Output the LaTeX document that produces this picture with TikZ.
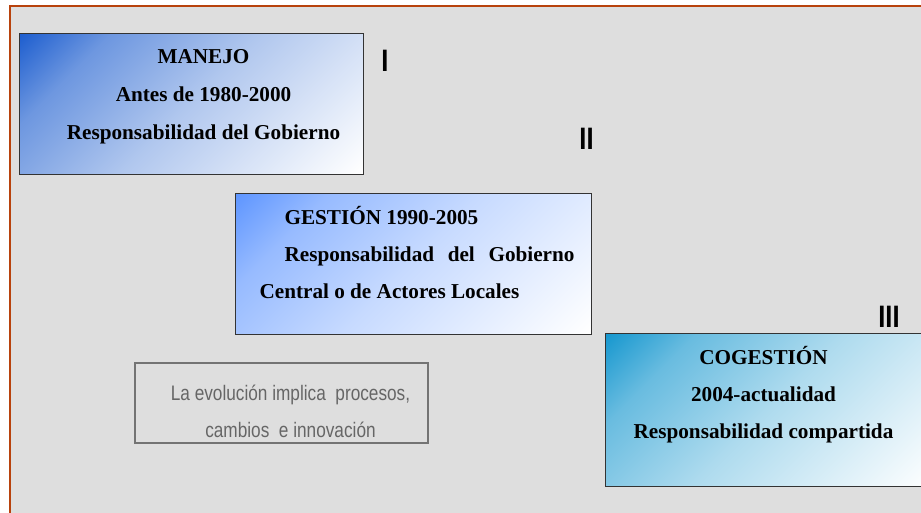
\documentclass[tikz,border=0pt]{standalone}
\usepackage{fontspec}
\setmainfont{Liberation Serif}
\newfontfamily\narrowfont[FakeStretch=0.82]{Liberation Sans}
\definecolor{marco}{HTML}{B8420C}
\definecolor{fondo}{HTML}{DEDEDE}
\definecolor{azulA}{HTML}{1F5FCF}
\definecolor{azulB}{HTML}{5F96FF}
\definecolor{azulC}{HTML}{1898CF}
\colorlet{tope}{azulA}
\colorlet{medio}{azulA!35!white}
\colorlet{alto}{azulA!65!white}
\pgfdeclareverticalshading[tope,medio,alto]{degradado}{100bp}{color(0bp)=(white);color(15bp)=(white);color(50bp)=(medio);color(72bp)=(alto);color(85bp)=(tope);color(100bp)=(tope)}
\begin{document}
\begin{tikzpicture}[x=1pt,y=-1pt,
	caja/.style={draw=black!80,line width=0.9pt,/utils/exec={\colorlet{tope}{#1}\colorlet{medio}{#1!35!white}\colorlet{alto}{#1!65!white}},shading=degradado,shading angle=45,inner sep=0pt},
	texto/.style={anchor=base,font=\bfseries\fontsize{21.2}{38}\selectfont},
	nota/.style={anchor=base,text=black!60,font=\narrowfont\fontsize{21}{38}\selectfont},
	fase/.style={anchor=base,font=\narrowfont\bfseries\fontsize{31}{31}\selectfont}]
	\useasboundingbox (0,0) rectangle (921,512);
	\draw[marco,line width=2pt,fill=fondo] (10,6) rectangle (935,525);
	% Etapa I
	\node[caja=azulA,minimum width=344pt,minimum height=141pt] (manejo) at (191,103.5) {};
	\node[texto] (m1) at (203.5,63) {MANEJO};
	\node[texto] (m2) at (203.5,101) {Antes de 1980-2000};
	\node[texto] (m3) at (203.5,139) {Responsabilidad del Gobierno};
	\node[fase] (f1) at (385,71) {I};
	% Etapa II
	\node[caja=azulB,minimum width=356pt,minimum height=141pt] (gestion) at (413,263.5) {};
	\node[texto,anchor=base west] (g1) at (281,224) {GESTIÓN 1990-2005};
	\node[texto,anchor=base west] (g2) at (281,261) {\makebox[290pt][s]{Responsabilidad del Gobierno}};
	\node[texto,anchor=base west] (g3) at (256,298) {Central o de Actores Locales};
	\node[fase] (f2) at (586.5,149) {II};
	% Etapa III
	\node[caja=azulC,minimum width=330pt,minimum height=153pt] (cogestion) at (770,409.5) {};
	\node[texto] (c1) at (763.5,364) {COGESTIÓN};
	\node[texto] (c2) at (763.5,401) {2004-actualidad};
	\node[texto] (c3) at (763.5,438) {Responsabilidad compartida};
	\node[fase] (f3) at (889,327) {III};
	% Nota
	\node[draw=black!55,line width=1.1pt,minimum width=293pt,minimum height=80pt,inner sep=0pt] (marcoNota) at (281.5,403) {};
	\node[nota] (n1) at (290.5,400) {La evolución implica\ \ procesos,};
	\node[nota] (n2) at (290.5,437) {cambios\ \ e innovación};
\end{tikzpicture}
\end{document}
